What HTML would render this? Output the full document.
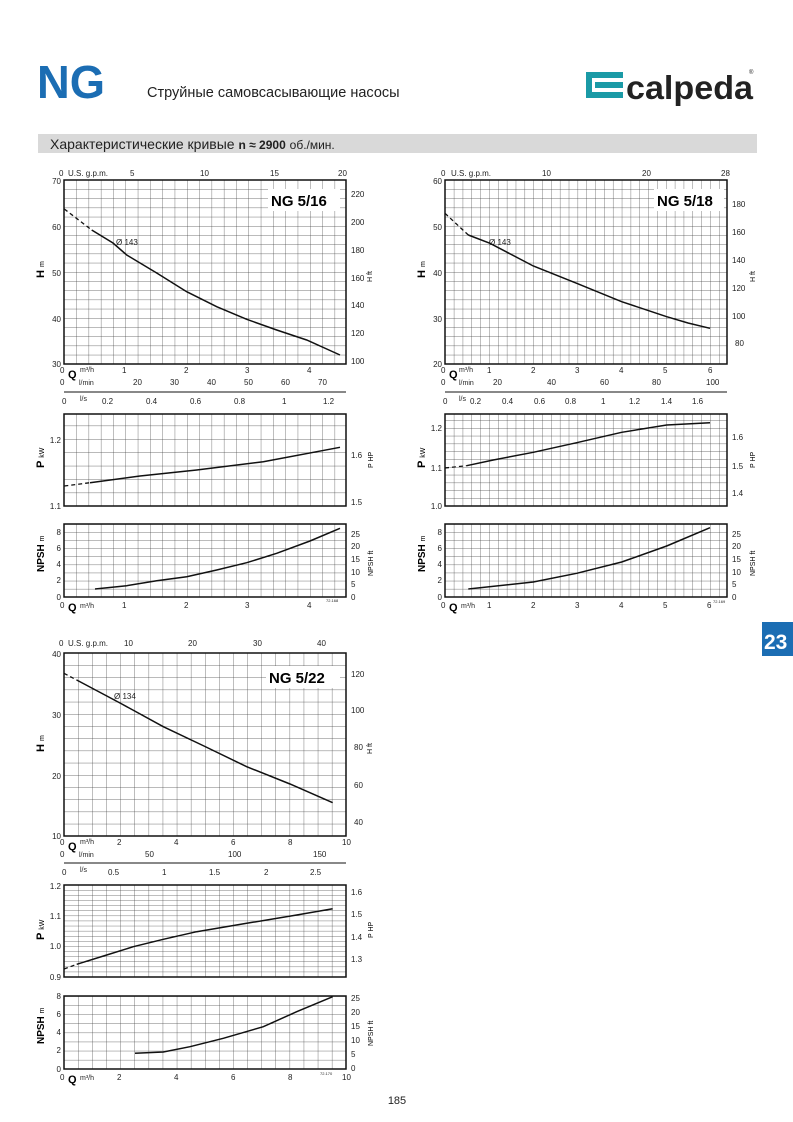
<!DOCTYPE html>
<html><head><meta charset="utf-8"><style>
body{margin:0;background:#fff;}
svg{display:block;font-family:"Liberation Sans",sans-serif;}
.t{font-size:8px;fill:#222;}
.b{font-weight:bold;}
</style></head><body>
<svg width="793" height="1122" viewBox="0 0 793 1122" xmlns="http://www.w3.org/2000/svg">
<defs>
<pattern id="g1h" x="64" y="180" width="12.3" height="9.2" patternUnits="userSpaceOnUse"><path d="M0 0V9.2M0 0H12.3" stroke="#444" stroke-width="0.7" fill="none"/></pattern>
<pattern id="g1p" x="64" y="506" width="12.3" height="13.4" patternUnits="userSpaceOnUse"><path d="M0 0V13.4M0 0H12.3" stroke="#444" stroke-width="0.7" fill="none"/></pattern>
<pattern id="g1n" x="64" y="597" width="12.3" height="8.1" patternUnits="userSpaceOnUse"><path d="M0 0V8.1M0 0H12.3" stroke="#444" stroke-width="0.7" fill="none"/></pattern>
<pattern id="g2h" x="445" y="180" width="8.84" height="9.2" patternUnits="userSpaceOnUse"><path d="M0 0V9.2M0 0H8.84" stroke="#444" stroke-width="0.7" fill="none"/></pattern>
<pattern id="g2p" x="445" y="506" width="8.84" height="7.8" patternUnits="userSpaceOnUse"><path d="M0 0V7.8M0 0H8.84" stroke="#444" stroke-width="0.7" fill="none"/></pattern>
<pattern id="g2n" x="445" y="597" width="8.84" height="8.1" patternUnits="userSpaceOnUse"><path d="M0 0V8.1M0 0H8.84" stroke="#444" stroke-width="0.7" fill="none"/></pattern>
<pattern id="g3h" x="64" y="653" width="14.1" height="12.2" patternUnits="userSpaceOnUse"><path d="M0 0V12.2M0 0H14.1" stroke="#444" stroke-width="0.7" fill="none"/></pattern>
<pattern id="g3p" x="64" y="885" width="14.1" height="5.1" patternUnits="userSpaceOnUse"><path d="M0 0V5.1M0 0H14.1" stroke="#444" stroke-width="0.7" fill="none"/></pattern>
<pattern id="g3n" x="64" y="1069" width="14.1" height="9.1" patternUnits="userSpaceOnUse"><path d="M0 0V9.1M0 0H14.1" stroke="#444" stroke-width="0.7" fill="none"/></pattern>
</defs>

<!-- header -->
<text x="37" y="98" font-size="46" font-weight="bold" fill="#1b6db3" textLength="68" lengthAdjust="spacingAndGlyphs">NG</text>
<text x="147" y="97" font-size="14.5" fill="#222">Струйные самовсасывающие насосы</text>
<rect x="586" y="72" width="37" height="26" fill="#1a9aa6"/>
<rect x="592" y="78" width="31" height="14" fill="#fff"/>
<rect x="595" y="82" width="28" height="6" fill="#1a9aa6"/>
<text x="626" y="99" font-size="33" font-weight="bold" fill="#222" textLength="127" lengthAdjust="spacingAndGlyphs">calpeda</text>
<text x="749" y="74" font-size="6" fill="#222">®</text>
<rect x="38" y="134" width="719" height="19" fill="#d9d9d9"/>
<text x="50" y="149" font-size="14" fill="#222">Характеристические кривые <tspan font-size="12" font-weight="bold">n ≈ 2900</tspan> <tspan font-size="12">об./мин.</tspan></text>
<rect x="762" y="622" width="31" height="34" fill="#1b6db3"/>
<text x="764" y="649" font-size="21" font-weight="bold" fill="#fff">23</text>
<text x="397" y="1104" font-size="11" fill="#222" text-anchor="middle">185</text>

<!-- ===== CHART 1 ===== -->
<rect x="64" y="180" width="282" height="184" fill="url(#g1h)" stroke="#111" stroke-width="1.5"/>
<rect x="64" y="414" width="282" height="92" fill="url(#g1p)" stroke="#111" stroke-width="1.5"/>
<rect x="64" y="524" width="282" height="73" fill="url(#g1n)" stroke="#111" stroke-width="1.5"/>
<rect x="268" y="189" width="72" height="22" fill="#fff"/>
<text x="271" y="206" font-size="15" class="b">NG 5/16</text>
<text x="116" y="245" class="t">Ø 143</text>
<path d="M64.3 209L91.7 230" stroke="#111" stroke-width="1.3" stroke-dasharray="4,3" fill="none"/>
<path d="M91.7 230L113 243L126.7 255L156.7 273L186.7 291.7L216.7 306.7L246.7 319.3L276.7 330L306.7 340L340 355" stroke="#111" stroke-width="1.5" fill="none"/>
<path d="M64.3 486L90 482.7" stroke="#111" stroke-width="1.3" stroke-dasharray="4,3" fill="none"/>
<path d="M90 482.7L140 476L196.7 470L263.3 461.7L340 447.3" stroke="#111" stroke-width="1.5" fill="none"/>
<path d="M95 589L126.7 585.7L156.7 580.7L186.7 576.7L216.7 570L246.7 562.7L276.7 553.3L310 541L340 528.3" stroke="#111" stroke-width="1.5" fill="none"/>
<g class="t">
<text x="59" y="176">0</text><text x="68" y="176">U.S. g.p.m.</text>
<text x="130" y="176">5</text><text x="200" y="176">10</text><text x="270" y="176">15</text><text x="338" y="176">20</text>
<g text-anchor="end"><text x="61" y="184">70</text><text x="61" y="230">60</text><text x="61" y="276">50</text><text x="61" y="322">40</text><text x="61" y="367">30</text>
<text x="61" y="443">1.2</text><text x="61" y="509">1.1</text>
<text x="61" y="535">8</text><text x="61" y="551">6</text><text x="61" y="567">4</text><text x="61" y="583">2</text><text x="61" y="600">0</text></g>
<text x="351" y="197">220</text><text x="351" y="225">200</text><text x="351" y="253">180</text><text x="351" y="281">160</text><text x="351" y="308">140</text><text x="351" y="336">120</text><text x="351" y="364">100</text>
<text x="351" y="458">1.6</text><text x="351" y="505">1.5</text>
<text x="351" y="537">25</text><text x="351" y="549">20</text><text x="351" y="562">15</text><text x="351" y="575">10</text><text x="351" y="587">5</text><text x="351" y="600">0</text>
<text x="60" y="373">0</text><text x="80" y="372" font-size="7">m³/h</text><text x="122" y="373">1</text><text x="184" y="373">2</text><text x="245" y="373">3</text><text x="307" y="373">4</text>
<text x="60" y="385">0</text><text x="79" y="385" font-size="7">l/min</text><text x="133" y="385">20</text><text x="170" y="385">30</text><text x="207" y="385">40</text><text x="244" y="385">50</text><text x="281" y="385">60</text><text x="318" y="385">70</text>
<text x="62" y="404">0</text><text x="80" y="401" font-size="7">l/s</text><text x="102" y="404">0.2</text><text x="146" y="404">0.4</text><text x="190" y="404">0.6</text><text x="234" y="404">0.8</text><text x="282" y="404">1</text><text x="323" y="404">1.2</text>
<text x="60" y="608">0</text><text x="80" y="608" font-size="7">m³/h</text><text x="122" y="608">1</text><text x="184" y="608">2</text><text x="245" y="608">3</text><text x="307" y="608">4</text>
<text x="326" y="602" font-size="4">72.168</text>
</g>
<text x="68" y="378" font-size="11" class="b">Q</text>
<text x="68" y="611" font-size="11" class="b">Q</text>
<line x1="64" y1="392" x2="346" y2="392" stroke="#111" stroke-width="1"/>
<text transform="translate(44,278) rotate(-90)" font-size="11" class="b">H <tspan font-size="7" font-weight="normal">m</tspan></text>
<text transform="translate(372,282) rotate(-90)" font-size="7">H ft</text>
<text transform="translate(44,468) rotate(-90)" font-size="11" class="b">P <tspan font-size="7" font-weight="normal">kW</tspan></text>
<text transform="translate(373,468) rotate(-90)" font-size="7">P HP</text>
<text transform="translate(44,572) rotate(-90)" font-size="10" class="b">NPSH <tspan font-size="7" font-weight="normal">m</tspan></text>
<text transform="translate(373,576) rotate(-90)" font-size="7">NPSH ft</text>

<!-- ===== CHART 2 ===== -->
<rect x="445" y="180" width="282" height="184" fill="url(#g2h)" stroke="#111" stroke-width="1.5"/>
<rect x="445" y="414" width="282" height="92" fill="url(#g2p)" stroke="#111" stroke-width="1.5"/>
<rect x="445" y="524" width="282" height="73" fill="url(#g2n)" stroke="#111" stroke-width="1.5"/>
<rect x="654" y="189" width="70" height="22" fill="#fff"/>
<text x="657" y="206" font-size="15" class="b">NG 5/18</text>
<text x="489" y="245" class="t">Ø 143</text>
<path d="M445 213.3L468.3 235" stroke="#111" stroke-width="1.3" stroke-dasharray="4,3" fill="none"/>
<path d="M468.3 235L490 243.3L533.3 266L576.7 283.3L621.7 301.7L666.7 316.7L688 323L710 328.3" stroke="#111" stroke-width="1.5" fill="none"/>
<path d="M445 468L466.7 465.7" stroke="#111" stroke-width="1.3" stroke-dasharray="4,3" fill="none"/>
<path d="M466.7 465.7L493.3 460L533.3 452.3L576.7 442.7L621.7 432.3L666.7 425L710 422.7" stroke="#111" stroke-width="1.5" fill="none"/>
<path d="M468.3 589L533.3 582L576.7 573.3L621.7 562L666.7 546L710 527.7" stroke="#111" stroke-width="1.5" fill="none"/>
<g class="t">
<text x="441" y="176">0</text><text x="451" y="176">U.S. g.p.m.</text>
<text x="542" y="176">10</text><text x="642" y="176">20</text><text x="721" y="176">28</text>
<g text-anchor="end"><text x="442" y="184">60</text><text x="442" y="230">50</text><text x="442" y="276">40</text><text x="442" y="322">30</text><text x="442" y="367">20</text>
<text x="442" y="431">1.2</text><text x="442" y="471">1.1</text><text x="442" y="509">1.0</text>
<text x="442" y="535">8</text><text x="442" y="551">6</text><text x="442" y="567">4</text><text x="442" y="583">2</text><text x="442" y="600">0</text></g>
<text x="732" y="207">180</text><text x="732" y="235">160</text><text x="732" y="263">140</text><text x="732" y="291">120</text><text x="732" y="319">100</text><text x="735" y="346">80</text>
<text x="732" y="440">1.6</text><text x="732" y="469">1.5</text><text x="732" y="496">1.4</text>
<text x="732" y="537">25</text><text x="732" y="549">20</text><text x="732" y="562">15</text><text x="732" y="575">10</text><text x="732" y="587">5</text><text x="732" y="600">0</text>
<text x="441" y="373">0</text><text x="459" y="372" font-size="7">m³/h</text><text x="487" y="373">1</text><text x="531" y="373">2</text><text x="575" y="373">3</text><text x="619" y="373">4</text><text x="663" y="373">5</text><text x="708" y="373">6</text>
<text x="441" y="385">0</text><text x="459" y="385" font-size="7">l/min</text><text x="493" y="385">20</text><text x="547" y="385">40</text><text x="600" y="385">60</text><text x="652" y="385">80</text><text x="706" y="385">100</text>
<text x="443" y="404">0</text><text x="459" y="401" font-size="7">l/s</text><text x="470" y="404">0.2</text><text x="502" y="404">0.4</text><text x="534" y="404">0.6</text><text x="565" y="404">0.8</text><text x="601" y="404">1</text><text x="629" y="404">1.2</text><text x="661" y="404">1.4</text><text x="692" y="404">1.6</text>
<text x="441" y="608">0</text><text x="461" y="608" font-size="7">m³/h</text><text x="487" y="608">1</text><text x="531" y="608">2</text><text x="575" y="608">3</text><text x="619" y="608">4</text><text x="663" y="608">5</text><text x="707" y="608">6</text>
<text x="713" y="603" font-size="4">72.169</text>
</g>
<text x="449" y="378" font-size="11" class="b">Q</text>
<text x="449" y="611" font-size="11" class="b">Q</text>
<line x1="445" y1="392" x2="727" y2="392" stroke="#111" stroke-width="1"/>
<text transform="translate(425,278) rotate(-90)" font-size="11" class="b">H <tspan font-size="7" font-weight="normal">m</tspan></text>
<text transform="translate(755,282) rotate(-90)" font-size="7">H ft</text>
<text transform="translate(425,468) rotate(-90)" font-size="11" class="b">P <tspan font-size="7" font-weight="normal">kW</tspan></text>
<text transform="translate(755,468) rotate(-90)" font-size="7">P HP</text>
<text transform="translate(425,572) rotate(-90)" font-size="10" class="b">NPSH <tspan font-size="7" font-weight="normal">m</tspan></text>
<text transform="translate(755,576) rotate(-90)" font-size="7">NPSH ft</text>

<!-- ===== CHART 3 ===== -->
<rect x="64" y="653" width="282" height="183" fill="url(#g3h)" stroke="#111" stroke-width="1.5"/>
<rect x="64" y="885" width="282" height="92" fill="url(#g3p)" stroke="#111" stroke-width="1.5"/>
<rect x="64" y="996" width="282" height="73" fill="url(#g3n)" stroke="#111" stroke-width="1.5"/>
<rect x="266" y="666" width="74" height="22" fill="#fff"/>
<text x="269" y="683" font-size="15" class="b">NG 5/22</text>
<text x="114" y="699" class="t">Ø 134</text>
<path d="M64 673.3L76.7 680" stroke="#111" stroke-width="1.3" stroke-dasharray="4,3" fill="none"/>
<path d="M76.7 680L120 703L163.3 726.7L205 746.5L246.7 766.7L290 784L332.7 802.7" stroke="#111" stroke-width="1.5" fill="none"/>
<path d="M64 969L76.7 964.3" stroke="#111" stroke-width="1.3" stroke-dasharray="4,3" fill="none"/>
<path d="M76.7 964.3L106.7 955L133.3 946.7L163.3 939.3L196.7 931.7L246.7 923.3L296.7 915L332.7 908.7" stroke="#111" stroke-width="1.5" fill="none"/>
<path d="M135 1053.3L163.3 1052L190 1046.7L223.3 1038.3L263.3 1026.7L296.7 1011.7L332.7 996.7" stroke="#111" stroke-width="1.5" fill="none"/>
<g class="t">
<text x="59" y="646">0</text><text x="68" y="646">U.S. g.p.m.</text>
<text x="124" y="646">10</text><text x="188" y="646">20</text><text x="253" y="646">30</text><text x="317" y="646">40</text>
<g text-anchor="end"><text x="61" y="657">40</text><text x="61" y="718">30</text><text x="61" y="779">20</text><text x="61" y="839">10</text>
<text x="61" y="889">1.2</text><text x="61" y="919">1.1</text><text x="61" y="949">1.0</text><text x="61" y="980">0.9</text>
<text x="61" y="999">8</text><text x="61" y="1017">6</text><text x="61" y="1035">4</text><text x="61" y="1053">2</text><text x="61" y="1072">0</text></g>
<text x="351" y="677">120</text><text x="351" y="713">100</text><text x="354" y="750">80</text><text x="354" y="788">60</text><text x="354" y="825">40</text>
<text x="351" y="895">1.6</text><text x="351" y="917">1.5</text><text x="351" y="940">1.4</text><text x="351" y="962">1.3</text>
<text x="351" y="1001">25</text><text x="351" y="1015">20</text><text x="351" y="1029">15</text><text x="351" y="1043">10</text><text x="351" y="1057">5</text><text x="351" y="1071">0</text>
<text x="60" y="845">0</text><text x="80" y="844" font-size="7">m³/h</text><text x="117" y="845">2</text><text x="174" y="845">4</text><text x="231" y="845">6</text><text x="288" y="845">8</text><text x="342" y="845">10</text>
<text x="60" y="857">0</text><text x="79" y="857" font-size="7">l/min</text><text x="145" y="857">50</text><text x="228" y="857">100</text><text x="313" y="857">150</text>
<text x="62" y="875">0</text><text x="80" y="872" font-size="7">l/s</text><text x="108" y="875">0.5</text><text x="162" y="875">1</text><text x="209" y="875">1.5</text><text x="264" y="875">2</text><text x="310" y="875">2.5</text>
<text x="60" y="1080">0</text><text x="80" y="1080" font-size="7">m³/h</text><text x="117" y="1080">2</text><text x="174" y="1080">4</text><text x="231" y="1080">6</text><text x="288" y="1080">8</text><text x="342" y="1080">10</text>
<text x="320" y="1075" font-size="4">72.170</text>
</g>
<text x="68" y="850" font-size="11" class="b">Q</text>
<text x="68" y="1083" font-size="11" class="b">Q</text>
<line x1="64" y1="863" x2="346" y2="863" stroke="#111" stroke-width="1"/>
<text transform="translate(44,752) rotate(-90)" font-size="11" class="b">H <tspan font-size="7" font-weight="normal">m</tspan></text>
<text transform="translate(372,754) rotate(-90)" font-size="7">H ft</text>
<text transform="translate(44,940) rotate(-90)" font-size="11" class="b">P <tspan font-size="7" font-weight="normal">kW</tspan></text>
<text transform="translate(373,938) rotate(-90)" font-size="7">P HP</text>
<text transform="translate(44,1044) rotate(-90)" font-size="10" class="b">NPSH <tspan font-size="7" font-weight="normal">m</tspan></text>
<text transform="translate(373,1046) rotate(-90)" font-size="7">NPSH ft</text>
</svg>
</body></html>
